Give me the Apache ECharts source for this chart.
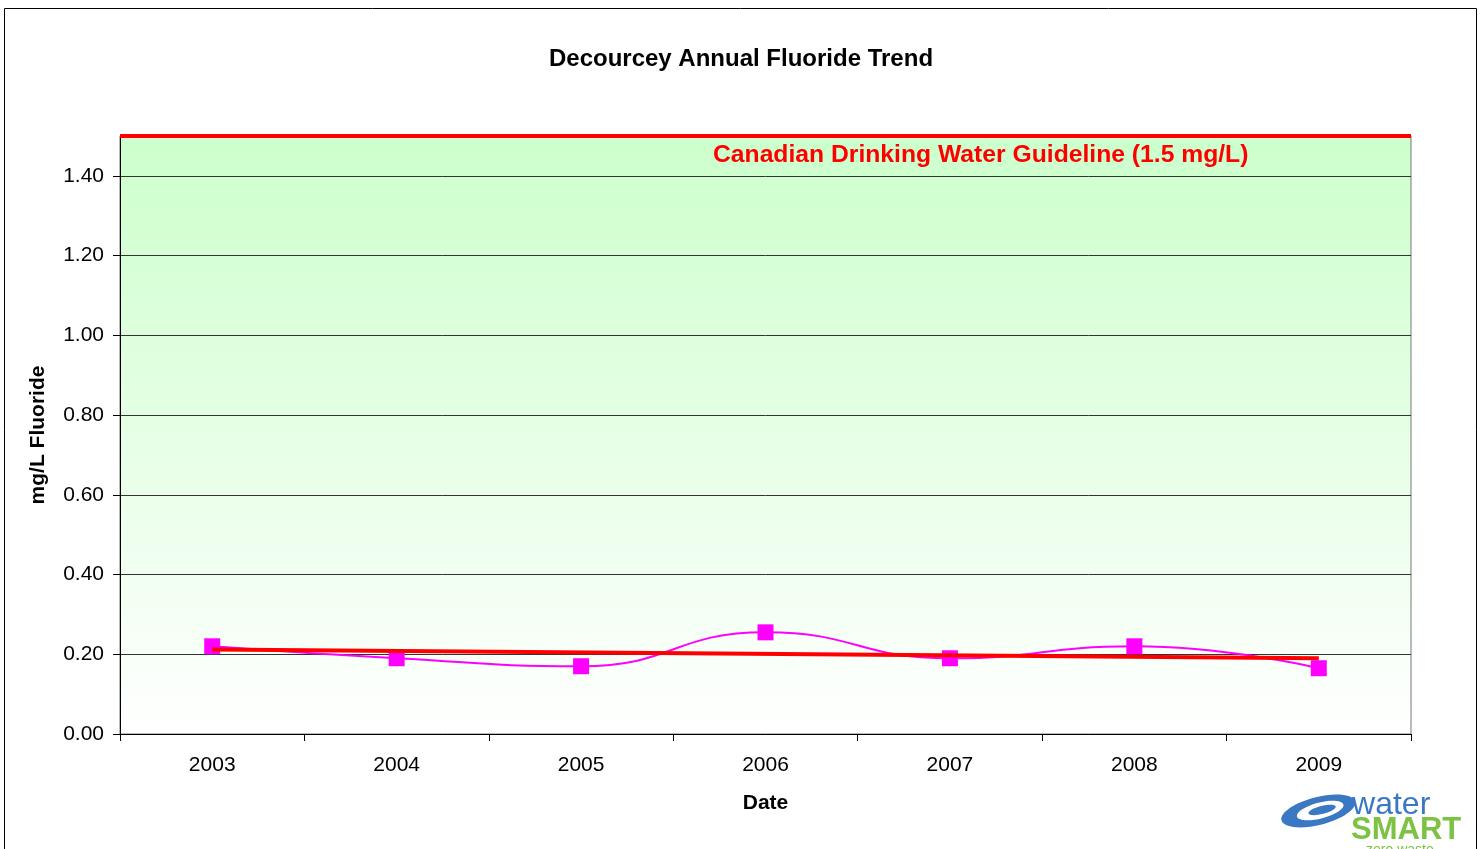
<!DOCTYPE html>
<html>
<head>
<meta charset="utf-8">
<script src="https://cdn.jsdelivr.net/npm/echarts@6/dist/echarts.min.js"></script>
<style>
html,body{margin:0;padding:0;background:#fff;}
#chart{width:1482px;height:849px;}
</style>
</head>
<body>
<div id="chart"></div>
<script>
const years = ['2003','2004','2005','2006','2007','2008','2009'];
const fluoride = [0.22, 0.19, 0.17, 0.255, 0.19, 0.22, 0.165];
const trendEnds = [0.212, null, null, null, null, null, 0.19];
const yTicks = [0, 0.2, 0.4, 0.6, 0.8, 1.0, 1.2, 1.4];
const guideline = 1.5;
const guidelineLabel = 'Canadian Drinking Water Guideline (1.5 mg/L)';
const titleText = 'Decourcey Annual Fluoride Trend';

const FONT = 'Liberation Sans, Arial, sans-serif';
const chart = echarts.init(document.getElementById('chart'));
chart.setOption({
  animation: false,
  backgroundColor: '#fff',
  title: {
    text: titleText, left: 'center', top: 42,
    textStyle: {fontFamily: FONT, fontSize: 24, fontWeight: 'bold', color: '#000'}
  },
  grid: {
    left: 120, right: 71, top: 136, bottom: 115, show: true,
    borderColor: '#777', borderWidth: 1,
    backgroundColor: {type: 'linear', x: 0, y: 0, x2: 0, y2: 1,
      colorStops: [{offset: 0, color: '#CCFFCC'}, {offset: 1, color: '#FFFFFF'}]}
  },
  xAxis: {
    type: 'category', data: years, boundaryGap: true,
    name: 'Date', nameLocation: 'middle', nameGap: 59,
    nameTextStyle: {fontFamily: FONT, fontSize: 21, fontWeight: 'bold', color: '#000'},
    axisLine: {lineStyle: {color: '#000', width: 1}},
    axisTick: {show: true, length: 7, lineStyle: {color: '#000'}},
    axisLabel: {fontFamily: FONT, fontSize: 21, color: '#000', margin: 21},
    splitLine: {show: false}
  },
  yAxis: {
    type: 'value', min: 0, max: 1.5, interval: 0.2,
    name: 'mg/L Fluoride', nameLocation: 'middle', nameGap: 71,
    nameTextStyle: {fontFamily: FONT, fontSize: 21, fontWeight: 'bold', color: '#000'},
    axisLine: {show: true, lineStyle: {color: '#000', width: 1}},
    axisTick: {show: true, length: 7, lineStyle: {color: '#000'}, customValues: yTicks},
    axisLabel: {fontFamily: FONT, fontSize: 21, color: '#000', margin: 16,
      customValues: yTicks, formatter: v => v.toFixed(2)},
    splitLine: {show: true, lineStyle: {color: '#333', width: 1}}
  },
  series: [
    {
      name: 'Fluoride', type: 'line', data: fluoride, smooth: 0.5,
      symbol: 'rect', symbolSize: 16,
      itemStyle: {color: '#FF00FF'},
      lineStyle: {color: '#FF00FF', width: 2},
      z: 3,
      markLine: {
        silent: true, symbol: 'none',
        lineStyle: {color: '#FF0000', width: 4, type: 'solid'},
        label: {show: false},
        data: [{yAxis: guideline}]
      }
    },
    {
      name: 'Trend', type: 'line', data: trendEnds, connectNulls: true,
      symbol: 'none', lineStyle: {color: '#FF0000', width: 4}, z: 5
    }
  ],
  graphic: [
    {type: 'rect', shape: {x: 4.5, y: 8.5, width: 1472, height: 900},
     style: {fill: 'none', stroke: '#000', lineWidth: 1}, z: 100, silent: true},
    {type: 'text', left: 713, top: 143, z: 100,
     style: {text: guidelineLabel, fill: '#FF0000', font: 'bold 24.7px ' + FONT}},
    {type: 'group', left: 1278, top: 788, z: 100, children: [
      {type: 'ellipse', shape: {cx: 38, cy: 30, rx: 38, ry: 14}, rotation: 0.25,
       style: {fill: '#3A78C4'}},
      {type: 'ellipse', shape: {cx: 40, cy: 30, rx: 24, ry: 8}, rotation: 0.25,
       style: {fill: '#fff'}},
      {type: 'ellipse', shape: {cx: 42, cy: 30, rx: 14, ry: 4}, rotation: 0.25,
       style: {fill: '#3A78C4'}},
      {type: 'text', x: 78, y: -2, style: {text: 'water', fill: '#3A78C4', font: '32px ' + FONT}},
      {type: 'text', x: 77, y: 24, style: {text: 'SMART', fill: '#7DC242', font: 'bold 31px ' + FONT}},
      {type: 'text', x: 92, y: 52, style: {text: 'zero waste', fill: '#7DC242', font: '14px ' + FONT}}
    ]}
  ]
});
</script>
</body>
</html>
